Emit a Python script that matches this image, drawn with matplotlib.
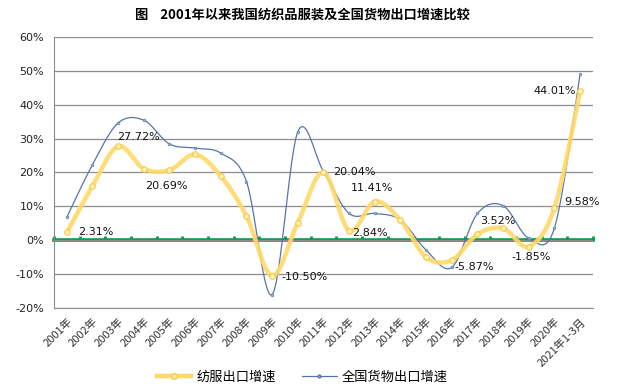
import numpy as np
import matplotlib
matplotlib.use("Agg")
import matplotlib.pyplot as plt
from matplotlib.lines import Line2D

plt.rcParams['font.family'] = ['Noto Sans CJK SC', 'DejaVu Sans']

# data
years = ['2001年', '2002年', '2003年', '2004年', '2005年', '2006年', '2007年',
         '2008年', '2009年', '2010年', '2011年', '2012年', '2013年', '2014年',
         '2015年', '2016年', '2017年', '2018年', '2019年', '2020年', '2021年1-3月']
textile = [2.31, 16.0, 27.72, 21.1, 20.69, 25.3, 18.9, 7.1, -10.50, 5.2, 20.04,
           2.84, 11.41, 5.9, -5.0, -5.87, 1.8, 3.52, -1.85, 9.58, 44.01]
national = [6.8, 22.3, 34.6, 35.4, 28.4, 27.2, 25.7, 17.3, -16.0, 32.0, 20.3,
            7.9, 7.9, 6.0, -2.9, -8.0, 7.9, 10.2, 0.6, 3.6, 49.0]

# which textile points get a value label, and where (dx, dy in points, ha, va)
labels = {0: (8, 0, 'left', 'center'), 2: (-1, 3, 'left', 'bottom'),
          4: (-2, -8, 'center', 'top'), 8: (7, -1, 'left', 'center'),
          10: (7, 0, 'left', 'center'), 11: (2, -2, 'left', 'center'),
          12: (-2, 6, 'center', 'bottom'), 15: (2, -5, 'left', 'center'),
          17: (-4, 2, 'center', 'bottom'), 18: (2, -4, 'center', 'top'),
          19: (7, 4, 'left', 'center'), 20: (-3, 0, 'right', 'center')}


def smooth(y, n=30):
    # excel-like smoothed line (catmull-rom bezier)
    x = np.arange(len(y), dtype=float)
    y = np.asarray(y, dtype=float)
    xs, ys = [], []
    for i in range(len(y) - 1):
        p0 = np.array([x[max(i - 1, 0)], y[max(i - 1, 0)]])
        p1 = np.array([x[i], y[i]])
        p2 = np.array([x[i + 1], y[i + 1]])
        p3 = np.array([x[min(i + 2, len(y) - 1)], y[min(i + 2, len(y) - 1)]])
        c1 = p1 + (p2 - p0) / 6
        c2 = p2 - (p3 - p1) / 6
        t = np.linspace(0, 1, n)[:, None]
        pts = ((1 - t) ** 3 * p1 + 3 * (1 - t) ** 2 * t * c1
               + 3 * (1 - t) * t ** 2 * c2 + t ** 3 * p2)
        xs.append(pts[:, 0])
        ys.append(pts[:, 1])
    return np.concatenate(xs), np.concatenate(ys)


fig = plt.figure(figsize=(6.17, 3.88), dpi=100)
ax = fig.add_axes([0.0875, 0.206, 0.8735, 0.699])

x = np.arange(len(years))
yellow = '#FFD966'
blue = '#5575A8'
green = '#00A050'

ax.set_ylim(-20, 60)
ax.set_xlim(-0.5, len(years) - 0.5)
ax.set_yticks(np.arange(-20, 61, 10))
ax.set_yticklabels(['%d%%' % v for v in np.arange(-20, 61, 10)],
                   family='DejaVu Sans', fontsize=8, color='#222222')
ax.grid(axis='y', color='#8C8C8C', lw=0.9)
ax.set_axisbelow(True)
for s in ['top', 'right']:
    ax.spines[s].set_visible(False)
ax.spines['left'].set_color('#8C8C8C')
ax.spines['bottom'].set_color('#8C8C8C')
ax.tick_params(axis='y', length=0, pad=7)
ax.set_xticks(x)
ax.set_xticklabels(years, rotation=45, ha='right', rotation_mode='anchor',
                   fontsize=8, color='#333333')
ax.tick_params(axis='x', length=0, pad=6)

# green zero line with category boundary ticks
zero_pos = (0 - ax.get_ylim()[0]) / (ax.get_ylim()[1] - ax.get_ylim()[0])
sec = ax.secondary_xaxis(zero_pos)
sec.spines['bottom'].set_color(green)
sec.spines['bottom'].set_linewidth(2.6)
sec.set_xticks(np.arange(-0.5, len(years), 1.0))
sec.tick_params(direction='in', length=3, width=2, color=green, labelbottom=False)

sx, sy = smooth(national)
ax.plot(sx, sy, color=blue, lw=0.9, zorder=3)
ax.plot(x, national, 'o', ms=2, color=blue, mfc='#9FB3D6', mew=0.4, zorder=3)

sx, sy = smooth(textile)
ax.plot(sx, sy, color=yellow, lw=3.2, alpha=0.9, zorder=4, solid_capstyle='round')
ax.plot(x, textile, 'o', ms=4, mfc='#FFF2B3', mec='#F2C94C', mew=0.8, zorder=5)

for i, (dx, dy, ha, va) in labels.items():
    ax.annotate('%.2f%%' % textile[i], (x[i], textile[i]), xytext=(dx, dy),
                textcoords='offset points', ha=ha, va=va, fontsize=8,
                family='DejaVu Sans', color='#111111', zorder=6)

fig.text(0.49, 0.962, '图    2001年以来我国纺织品服装及全国货物出口增速比较',
         ha='center', va='center', fontsize=9.5, fontweight='bold')

handles = [Line2D([], [], color=yellow, lw=3.2, marker='o', ms=4,
                  mfc='#FFF2B3', mec='#F2C94C'),
           Line2D([], [], color=blue, lw=0.9, marker='o', ms=2, mfc='#9FB3D6')]
fig.legend(handles, ['纺服出口增速', '全国货物出口增速'], loc='center',
           bbox_to_anchor=(0.49, 0.028), ncol=2, frameon=False, fontsize=9.5,
           handlelength=2.6, columnspacing=2.0, handletextpad=0.4)

fig.savefig('out.png', dpi=100)
